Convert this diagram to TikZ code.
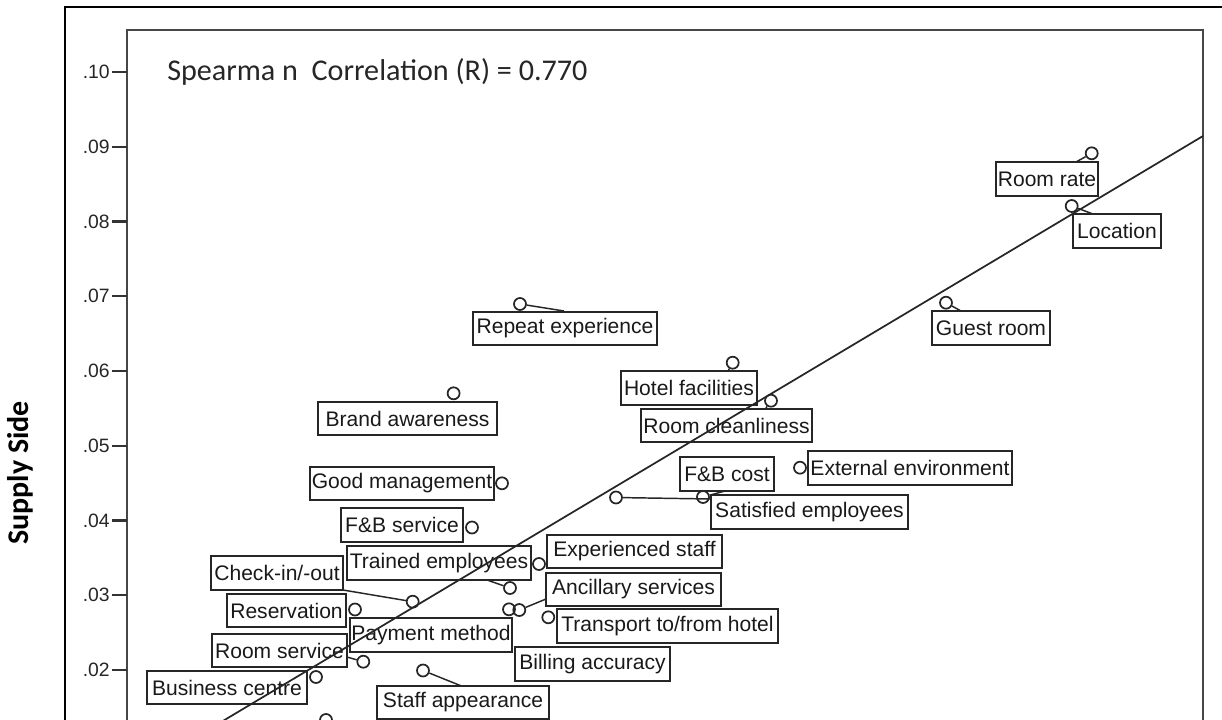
\documentclass[tikz,border=0pt]{standalone}
\usepackage{fontspec}
\setmainfont{Liberation Sans}
\newfontfamily\calib{Carlito}
\begin{document}
\begin{tikzpicture}[x=0.75pt,y=-0.75pt,
  lab/.style={draw=black!85, line width=1.35pt, inner xsep=1.2pt, inner ysep=0pt,
    minimum height=25pt, minimum width=#1*0.75pt,
    font=\fontsize{15.8}{16}\selectfont, text=black!90},
  pnt/.style={circle, draw=black!85, line width=1.3pt, minimum size=9pt, inner sep=0pt},
  lead/.style={draw=black!85, line width=1.1pt},
  tickmark/.style={line width=1.6pt, black!80},
  ticklab/.style={anchor=east, inner sep=0pt, font=\fontsize{14.5}{15}\selectfont, text=black!85}]
\useasboundingbox (0,0) rectangle (1222,719);
\clip (0,0) rectangle (1222,719);
% frames
\coordinate (o1) at (65,740);
\coordinate (o2) at (65,7);
\coordinate (o3) at (1240,7);
\draw[line width=2.2pt] (o1) -- (o2) -- (o3);
\coordinate (f1) at (127,740);
\coordinate (f2) at (127,30);
\coordinate (f3) at (1203,30);
\coordinate (f4) at (1203,740);
\draw[line width=1.7pt, black!72] (f1) -- (f2) -- (f3) -- (f4);
% ticks
\foreach \k/\t in {10/.10,9/.09,8/.08,7/.07,6/.06,5/.05,4/.04,3/.03,2/.02}{
  \pgfmathsetmacro{\yy}{72+(10-\k)*74.75}
  \coordinate (ta\k) at (112,\yy);
  \coordinate (tb\k) at (127,\yy);
  \draw[tickmark] (ta\k) -- (tb\k);
  \node[ticklab] (tl\k) at (110,\yy) {\t};
}
% titles
\node[anchor=west, inner sep=0pt, font=\calib\fontsize{22.6}{24}\selectfont, text=black!85] (title) at (167,72) {Spearma n\ \ Correlation (R) = 0.770};
\node[rotate=90, inner sep=0pt, font=\calib\bfseries\fontsize{22.5}{24}\selectfont] (ylab) at (20,473) {Supply Side};
% labels
\node[lab=102] (rr) at (1047,179) {Room rate};
\node[lab=88] (loc) at (1117,231) {Location};
\node[lab=118] (gr) at (991,328) {Guest room};
\node[lab=184] (rep) at (565,328.5) {Repeat experience};
\node[lab=136] (hf) at (689,388) {Hotel facilities};
\node[lab=171] (rc) at (726.5,425.5) {Room cleanliness};
\node[lab=179] (ba) at (407.5,418.5) {Brand awareness};
\node[lab=182] (gm) at (402,483.5) {Good management};
\node[lab=94] (fbc) at (727,474) {F\&B cost};
\node[lab=204] (ee) at (910,468) {External environment};
\node[lab=197] (se) at (809.5,512) {Satisfied employees};
\node[lab=122] (fbs) at (402,525) {F\&B service};
\node[lab=184] (te) at (439,563) {Trained employees};
\node[lab=175] (es) at (634.5,551.5) {Experienced staff};
\node[lab=132] (ci) at (277,573) {Check-in/-out};
\node[lab=175] (as) at (633.5,589.5) {Ancillary services};
\node[lab=119] (res) at (286.5,610.5) {Reservation};
\node[lab=221] (tr) at (667.5,626) {Transport to/from hotel};
\node[lab=162] (pm) at (431,635) {Payment method};
\node[lab=135] (rs) at (279.5,650.5) {Room service};
\node[lab=155] (bacc) at (592.5,664) {Billing accuracy};
\node[lab=160] (bc) at (227,687.5) {Business centre};
\node[lab=172] (sa) at (463,702.5) {Staff appearance};
% points
\node[pnt] (p1) at (1091.7,153.3) {};
\node[pnt] (p2) at (1071.7,206) {};
\node[pnt] (p3) at (946,302.7) {};
\node[pnt] (p4) at (520,304) {};
\node[pnt] (p5) at (732.7,362.7) {};
\node[pnt] (p6) at (771,400.7) {};
\node[pnt] (p7) at (453.6,393.3) {};
\node[pnt] (p8) at (502,483.3) {};
\node[pnt] (p9) at (472,527.5) {};
\node[pnt] (p10) at (616,497.5) {};
\node[pnt] (p11) at (703,497) {};
\node[pnt] (p12) at (800,467.7) {};
\node[pnt] (p13) at (539,564) {};
\node[pnt] (p14) at (510,588) {};
\node[pnt] (p15) at (412.7,601.7) {};
\node[pnt] (p16) at (355,609.5) {};
\node[pnt] (p17) at (509,609.3) {};
\node[pnt] (p18) at (519.3,610) {};
\node[pnt] (p19) at (548.3,617.3) {};
\node[pnt] (p20) at (363.3,661.7) {};
\node[pnt] (p21) at (316,677) {};
\node[pnt] (p22) at (423,670.5) {};
\node[pnt] (p23) at (326,720) {};
% leader ends
\coordinate (e1) at (1076,162);
\coordinate (e2) at (1093,214);
\coordinate (e3) at (961,311);
\coordinate (e4) at (564,311);
\coordinate (e5) at (728,371);
\coordinate (e6) at (766,408);
\coordinate (e10) at (711,499);
\coordinate (e11) at (725,491);
\coordinate (e14) at (487,580);
\coordinate (e15) at (343,590);
\coordinate (e18) at (546,599);
\coordinate (e20) at (347,657);
\coordinate (e22) at (461.5,686);
\draw[lead] (p1) -- (e1);
\draw[lead] (p2) -- (e2);
\draw[lead] (p3) -- (e3);
\draw[lead] (p4) -- (e4);
\draw[lead] (p5) -- (e5);
\draw[lead] (p6) -- (e6);
\draw[lead] (p10) -- (e10);
\draw[lead] (p11) -- (e11);
\draw[lead] (p14) -- (e14);
\draw[lead] (p15) -- (e15);
\draw[lead] (p18) -- (e18);
\draw[lead] (p20) -- (e20);
\draw[lead] (p22) -- (e22);
% regression line
\coordinate (r0) at (191,740);
\coordinate (r1) at (1203,136);
\draw[line width=1.3pt, black!85] (r0) -- (r1);
\end{tikzpicture}
\end{document}
